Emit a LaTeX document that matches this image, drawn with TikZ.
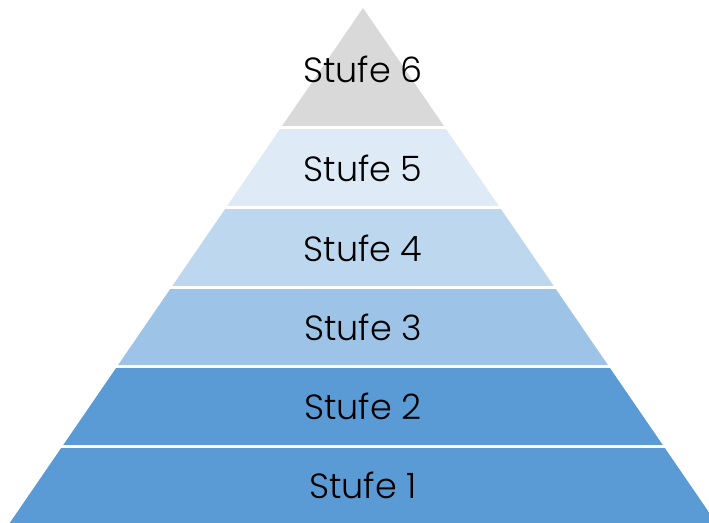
\documentclass[tikz,border=0pt]{standalone}
\usepackage{fontspec}
\setmainfont{Poppins}[UprightFont=* Light]
\definecolor{cSix}{HTML}{D9D9D9}
\definecolor{cFive}{HTML}{DEEBF7}
\definecolor{cFour}{HTML}{BDD7EE}
\definecolor{cThree}{HTML}{9DC3E6}
\definecolor{cTwo}{HTML}{5B9BD5}
\tikzset{lbl/.style={anchor=base,inner sep=0pt,font=\fontsize{35}{38}\selectfont,text=black}}
\begin{document}
\begin{tikzpicture}[x=1pt,y=-1pt]
\useasboundingbox (0,0) rectangle (709,522);
\clip (0,0) rectangle (709,522);
\begin{scope}
\clip (363,8) -- ({363-0.686*522},530) -- ({363+0.686*522},530) -- cycle;
\fill[cSix] (0,0) rectangle (709,126.2);
\fill[cFive] (0,129.2) rectangle (709,206.2);
\fill[cFour] (0,209.2) rectangle (709,286);
\fill[cThree] (0,289) rectangle (709,365.3);
\fill[cTwo] (0,368.3) rectangle (709,444.6);
\fill[cTwo] (0,447.6) rectangle (709,530);
\end{scope}
\node[lbl] (s6) at (363,82) {Stufe 6};
\node[lbl] (s5) at (363,181.5) {Stufe 5};
\node[lbl] (s4) at (363,261) {Stufe 4};
\node[lbl] (s3) at (363,340.5) {Stufe 3};
\node[lbl] (s2) at (363,419) {Stufe 2};
\node[lbl] (s1) at (363,498.5) {Stufe 1};
\end{tikzpicture}
\end{document}
